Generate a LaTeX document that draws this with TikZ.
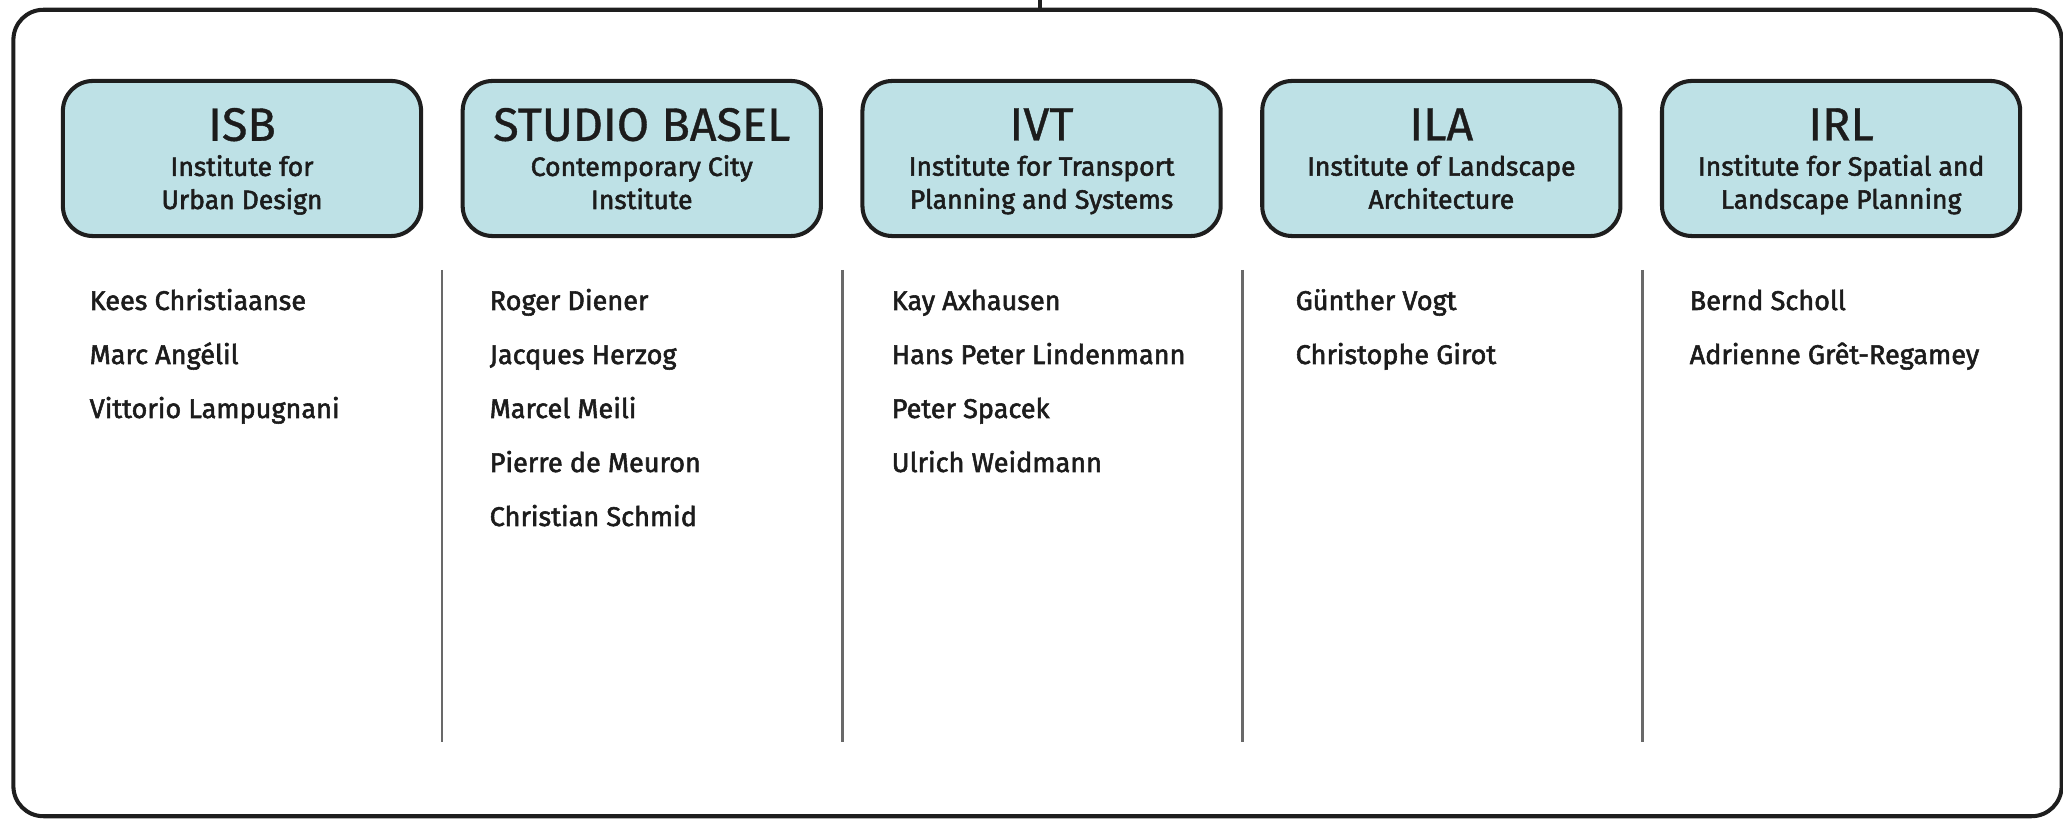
\documentclass[tikz,border=0pt]{standalone}
\usepackage{fontspec}
\setmainfont{Fira Sans}
\newfontfamily\medfont[FakeBold=2]{Fira Sans}
\newfontfamily\headfont[FakeBold=0.8]{Fira Sans}
\usetikzlibrary{positioning}

\definecolor{instfill}{RGB}{190,225,230}
\definecolor{instline}{RGB}{30,30,30}
\definecolor{sepgray}{RGB}{105,105,105}
\definecolor{textdark}{RGB}{28,28,28}

\newcommand{\insttitle}[1]{{\headfont\fontsize{13.3}{14}\selectfont #1}\\[0.6pt]}

\begin{document}
\begin{tikzpicture}[x=0.01cm, y=-0.01cm,
    frame/.style={draw=instline, line width=1.15pt, rounded corners=0.3cm,
        minimum width=20.47cm, minimum height=8.06cm, inner sep=0pt},
    inst/.style={draw=instline, line width=1.15pt, fill=instfill, rounded corners=0.3cm,
        minimum width=3.58cm, minimum height=1.55cm, inner sep=0pt, align=center,
        text depth=0pt, text=textdark, font=\medfont\fontsize{7.55}{9.4}\selectfont},
    staff/.style={anchor=base west, inner sep=0pt, text=textdark,
        font=\medfont\fontsize{7.7}{10}\selectfont},
    sep/.style={draw=sepgray, line width=0.85pt}]

    \useasboundingbox (0,0) rectangle (2063,819);

    \node[frame] (frame) at (1037.5,413) {};
    \coordinate (feed) at (1040,0);
    \draw[draw=instline, line width=1.15pt] (feed) -- (feed |- frame.north);

    % institutes
    \node[inst] (isb) at (242,158.5) {\insttitle{ISB}Institute for\\Urban Design};
    \node[inst, right=0.375cm of isb] (sb) {\insttitle{STUDIO BASEL}Contemporary City\\Institute};
    \node[inst, right=0.375cm of sb] (ivt) {\insttitle{IVT}Institute for Transport\\Planning and Systems};
    \node[inst, right=0.375cm of ivt] (ila) {\insttitle{ILA}Institute of Landscape\\Architecture};
    \node[inst, right=0.375cm of ila] (irl) {\insttitle{IRL}Institute for Spatial and\\Landscape Planning};

    % column rules
    \foreach \x in {442,842,1242,1642}
        \draw[sep] (\x,270) -- (\x,742);

    % staff lists
    \foreach \nm [count=\i] in {Kees Christiaanse, Marc Angélil, Vittorio Lampugnani}
        \node[staff] (isb-\i) at (89,{310+54*(\i-1)}) {\nm};
    \foreach \nm [count=\i] in {Roger Diener, Jacques Herzog, Marcel Meili, Pierre de Meuron, Christian Schmid}
        \node[staff] (sb-\i) at (489,{310+54*(\i-1)}) {\nm};
    \foreach \nm [count=\i] in {Kay Axhausen, Hans Peter Lindenmann, Peter Spacek, Ulrich Weidmann}
        \node[staff] (ivt-\i) at (891,{310+54*(\i-1)}) {\nm};
    \foreach \nm [count=\i] in {Günther Vogt, Christophe Girot}
        \node[staff] (ila-\i) at (1295,{310+54*(\i-1)}) {\nm};
    \foreach \nm [count=\i] in {Bernd Scholl, Adrienne Grêt-Regamey}
        \node[staff] (irl-\i) at (1689,{310+54*(\i-1)}) {\nm};

\end{tikzpicture}
\end{document}
